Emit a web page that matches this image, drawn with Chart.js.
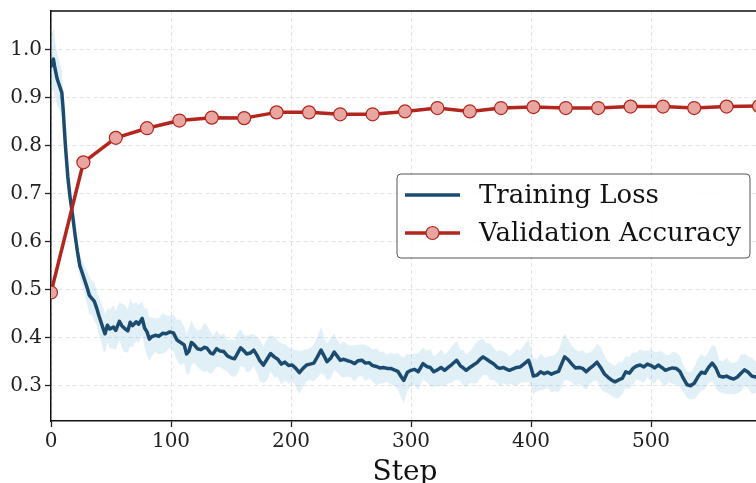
<!DOCTYPE html>
<html>
<head>
<meta charset="utf-8">
<script src="https://cdn.jsdelivr.net/npm/chart.js@4.4.1/dist/chart.umd.min.js"></script>
<style>
html,body{margin:0;padding:0;background:#fff;overflow:hidden;}
#wrap{position:absolute;left:0;top:0;width:780px;height:495px;}
</style>
</head>
<body>
<div id="wrap"><canvas id="c" width="780" height="495"></canvas></div>
<script>
// ---- data ----
const lossSteps = [
  0,1,2,3,5,7,9,10,12,14,
  16,18,20,22,24,26,28,30,32,34,
  36,38,40,42,44,45,47,49,52,54,
  57,59,61,64,66,68,71,73,76,78,
  80,82,84,87,90,93,96,99,102,105,
  108,111,113,115,117,119,122,125,128,130,
  133,135,138,141,144,147,150,153,156,158,
  161,163,166,169,172,174,177,180,183,186,
  189,192,195,198,201,204,207,210,213,216,
  219,222,225,228,230,233,236,239,241,244,
  247,250,253,256,259,262,265,268,271,274,
  277,280,283,286,289,292,294,297,300,303,
  306,310,313,316,319,322,325,328,331,334,
  338,341,344,346,349,352,355,358,360,363,
  366,369,372,374,377,380,382,385,388,391,
  394,398,400,402,405,408,411,414,417,420,
  423,426,428,431,434,437,440,443,446,449,
  452,455,458,461,464,467,470,473,476,479,
  482,485,488,491,494,497,500,503,506,509,
  512,515,518,521,524,527,530,533,536,539,
  542,545,548,551,554,557,560,563,566,569,
  572,575,578,581,584,587,590
];
const lossValues = [
  0.965,0.975,0.98,0.965,0.94,0.925,0.91,0.88,0.80,0.735,
  0.69,0.655,0.615,0.58,0.55,0.535,0.52,0.505,0.488,0.482,
  0.476,0.462,0.445,0.43,0.415,0.408,0.426,0.418,0.422,0.415,
  0.434,0.425,0.42,0.414,0.432,0.425,0.433,0.428,0.44,0.42,
  0.412,0.397,0.402,0.405,0.403,0.409,0.408,0.412,0.41,0.395,
  0.39,0.385,0.366,0.372,0.39,0.386,0.377,0.375,0.38,0.378,
  0.368,0.366,0.377,0.372,0.371,0.362,0.358,0.356,0.37,0.379,
  0.372,0.366,0.368,0.374,0.362,0.352,0.343,0.355,0.367,0.36,
  0.355,0.345,0.349,0.342,0.343,0.336,0.327,0.336,0.343,0.345,
  0.347,0.36,0.374,0.36,0.35,0.357,0.37,0.36,0.353,0.355,
  0.352,0.35,0.346,0.352,0.353,0.347,0.348,0.342,0.34,0.337,
  0.338,0.336,0.336,0.333,0.33,0.318,0.311,0.328,0.332,0.334,
  0.329,0.346,0.34,0.338,0.329,0.333,0.338,0.332,0.338,0.344,
  0.353,0.342,0.336,0.332,0.338,0.343,0.348,0.356,0.36,0.355,
  0.35,0.345,0.338,0.336,0.338,0.334,0.332,0.335,0.338,0.339,
  0.345,0.353,0.338,0.32,0.322,0.329,0.325,0.328,0.324,0.327,
  0.33,0.348,0.36,0.354,0.345,0.337,0.338,0.336,0.329,0.336,
  0.342,0.349,0.338,0.325,0.318,0.312,0.308,0.312,0.315,0.329,
  0.326,0.336,0.341,0.343,0.339,0.345,0.342,0.337,0.343,0.338,
  0.332,0.335,0.337,0.336,0.33,0.315,0.302,0.3,0.305,0.318,
  0.328,0.326,0.338,0.347,0.337,0.32,0.318,0.32,0.316,0.314,
  0.318,0.326,0.333,0.328,0.32,0.318,0.322
];
const lossStd = [
  0.05,0.06,0.065,0.06,0.055,0.05,0.045,0.04,0.03,0.025,
  0.02,0.02,0.02,0.022,0.025,0.025,0.03,0.035,0.04,0.035,
  0.04,0.035,0.04,0.04,0.045,0.04,0.035,0.04,0.045,0.04,
  0.04,0.045,0.05,0.045,0.05,0.045,0.04,0.04,0.035,0.04,
  0.05,0.045,0.04,0.035,0.038,0.042,0.038,0.033,0.038,0.042,
  0.048,0.038,0.042,0.048,0.047,0.038,0.038,0.043,0.052,0.047,
  0.043,0.038,0.038,0.033,0.038,0.033,0.038,0.038,0.043,0.038,
  0.033,0.038,0.038,0.033,0.038,0.043,0.038,0.043,0.038,0.043,
  0.038,0.043,0.038,0.038,0.033,0.038,0.045,0.038,0.033,0.033,
  0.038,0.043,0.048,0.038,0.038,0.043,0.038,0.033,0.033,0.038,
  0.033,0.033,0.038,0.033,0.033,0.038,0.033,0.033,0.038,0.033,
  0.033,0.028,0.033,0.033,0.038,0.043,0.048,0.038,0.033,0.033,
  0.038,0.033,0.033,0.038,0.033,0.033,0.038,0.033,0.033,0.038,
  0.04,0.033,0.038,0.033,0.033,0.038,0.043,0.04,0.038,0.033,
  0.038,0.033,0.033,0.038,0.033,0.033,0.028,0.033,0.038,0.033,
  0.038,0.045,0.038,0.038,0.033,0.038,0.033,0.033,0.038,0.038,
  0.043,0.048,0.048,0.043,0.038,0.038,0.033,0.038,0.038,0.033,
  0.033,0.038,0.043,0.038,0.033,0.033,0.033,0.038,0.033,0.033,
  0.033,0.033,0.028,0.033,0.033,0.028,0.033,0.033,0.028,0.033,
  0.033,0.028,0.033,0.033,0.033,0.028,0.028,0.028,0.033,0.038,
  0.038,0.033,0.033,0.038,0.043,0.033,0.033,0.038,0.033,0.033,
  0.033,0.038,0.033,0.033,0.038,0.033,0.033
];
const valSteps = [0,27,54,80,107,134,161,188,215,241,268,295,322,349,375,402,429,456,483,510,536,563,590];
const valAccuracy = [0.494,0.765,0.816,0.836,0.852,0.858,0.857,0.869,0.869,0.865,0.865,0.871,0.878,0.871,0.878,0.880,0.878,0.878,0.881,0.881,0.878,0.881,0.882];
const xTickValues = [0,100,200,300,400,500];
const yTickValues = [0.3,0.4,0.5,0.6,0.7,0.8,0.9,1.0];

// ---- styling ----
const FONT = "'DejaVu Serif','Liberation Serif',serif";
const LOSS_COLOR = '#1b4b6f';
const VAL_COLOR = '#b3261e';
const VAL_FILL = '#e8a6a0';

const toXY = (xs, ys) => xs.map((x, i) => ({x: x, y: ys[i]}));
const upper = lossValues.map((v, i) => v + lossStd[i]);
const lower = lossValues.map((v, i) => v - lossStd[i]);

const framePlugin = {
  id: 'frame',
  afterDraw(chart) {
    const {ctx, chartArea: a} = chart;
    ctx.save();
    ctx.strokeStyle = '#111';
    ctx.lineWidth = 1.5;
    ctx.beginPath();
    ctx.moveTo(a.left, a.top);
    ctx.lineTo(a.right, a.top);
    ctx.lineTo(a.right, a.bottom);
    ctx.stroke();
    ctx.restore();
  }
};

const legendPlugin = {
  id: 'customLegend',
  afterDraw(chart) {
    const {ctx, chartArea: a} = chart;
    const x0 = a.left + 346, y0 = a.top + 163, w = 353, h = 84;
    ctx.save();
    ctx.beginPath();
    if (ctx.roundRect) ctx.roundRect(x0, y0, w, h, 4); else ctx.rect(x0, y0, w, h);
    ctx.fillStyle = 'rgba(255,255,255,0.85)';
    ctx.fill();
    ctx.strokeStyle = '#555';
    ctx.lineWidth = 1;
    ctx.stroke();
    const items = chart.data.datasets.filter(d => d.showInLegend);
    items.forEach((d, i) => {
      const cy = y0 + 21 + i * 38;
      ctx.strokeStyle = d.borderColor;
      ctx.lineWidth = d.borderWidth;
      ctx.beginPath();
      ctx.moveTo(x0 + 8, cy);
      ctx.lineTo(x0 + 63, cy);
      ctx.stroke();
      if (d.pointRadius > 0) {
        ctx.beginPath();
        ctx.arc(x0 + 35.5, cy, d.pointRadius, 0, Math.PI * 2);
        ctx.fillStyle = d.pointBackgroundColor;
        ctx.fill();
        ctx.lineWidth = d.pointBorderWidth;
        ctx.strokeStyle = d.pointBorderColor;
        ctx.stroke();
      }
      ctx.fillStyle = '#111';
      ctx.font = '26px ' + FONT;
      ctx.textBaseline = 'middle';
      ctx.textAlign = 'left';
      ctx.fillText(d.label, x0 + 82, cy + 1);
    });
    ctx.restore();
  }
};

new Chart(document.getElementById('c').getContext('2d'), {
  type: 'line',
  data: {
    datasets: [
      {label: 'band upper', data: toXY(lossSteps, upper), borderWidth: 0, pointRadius: 0,
       fill: '+1', backgroundColor: 'rgba(107,174,214,0.2)', borderColor: 'rgba(0,0,0,0)', order: 3},
      {label: 'band lower', data: toXY(lossSteps, lower), borderWidth: 0, pointRadius: 0,
       fill: false, borderColor: 'rgba(0,0,0,0)', order: 3},
      {label: 'Training Loss', data: toXY(lossSteps, lossValues), borderColor: LOSS_COLOR,
       borderWidth: 3.5, pointRadius: 0, fill: false, order: 2, showInLegend: true,
       borderJoinStyle: 'round', borderCapStyle: 'round'},
      {label: 'Validation Accuracy', data: toXY(valSteps, valAccuracy), borderColor: VAL_COLOR,
       borderWidth: 3.5, pointRadius: 6.5, pointBackgroundColor: VAL_FILL, pointBorderColor: VAL_COLOR,
       pointBorderWidth: 1.2, fill: false, order: 1, showInLegend: true, borderJoinStyle: 'round'}
    ]
  },
  options: {
    responsive: false,
    animation: false,
    devicePixelRatio: 1,
    layout: {padding: {top: 11, right: 21, left: 0, bottom: 0}},
    plugins: {legend: {display: false}, tooltip: {enabled: false}},
    elements: {line: {tension: 0}},
    scales: {
      x: {
        type: 'linear', min: 0, max: 590,
        afterBuildTicks: s => { s.ticks = xTickValues.map(v => ({value: v})); },
        afterFit: s => { s.height = 74; s.paddingLeft = 0; s.paddingRight = 0; },
        ticks: {font: {family: FONT, size: 20}, color: '#222', padding: 3, maxRotation: 0,
                callback: v => String(v)},
        grid: {color: '#e2e2e2', lineWidth: 1, tickColor: '#222', tickLength: 6, tickWidth: 1.3, tickBorderDash: []},
        border: {display: true, color: '#111', width: 1.5, dash: [4, 3]},
        title: {display: true, text: 'Step', font: {family: FONT, size: 28}, color: '#111', padding: {top: 0, bottom: 5}}
      },
      y: {
        type: 'linear', min: 0.2265, max: 1.08,
        afterBuildTicks: s => { s.ticks = yTickValues.map(v => ({value: v})); },
        afterFit: s => { s.width = 51; s.paddingTop = 0; s.paddingBottom = 0; },
        ticks: {font: {family: FONT, size: 20}, color: '#222', padding: 3,
                callback: v => Number(v).toFixed(1)},
        grid: {color: '#e2e2e2', lineWidth: 1, tickColor: '#222', tickLength: 6, tickWidth: 1.3, tickBorderDash: []},
        border: {display: true, color: '#111', width: 1.5, dash: [4, 3]}
      }
    }
  },
  plugins: [framePlugin, legendPlugin]
});
</script>
</body>
</html>
